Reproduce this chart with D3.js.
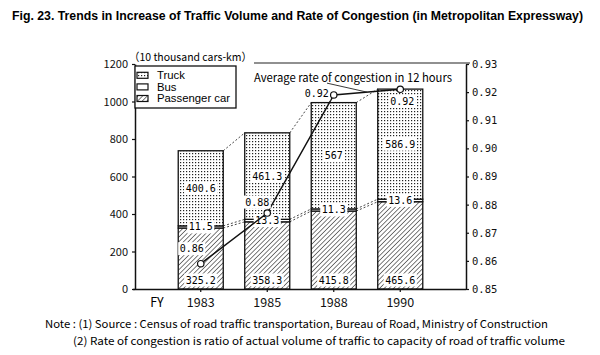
<!DOCTYPE html>
<html><head><meta charset="utf-8">
<script src="https://cdn.jsdelivr.net/npm/d3@7"></script>
<style>
body{margin:0;background:#fff;}
svg{display:block;font-family:"Noto Sans CJK JP","Noto Sans",sans-serif;}
</style></head>
<body><svg id="c" width="600" height="355"></svg>
<script>
const years = ["1983","1985","1988","1990"];
const passenger = [325.2, 358.3, 415.8, 465.6];
const bus = [11.5, 13.3, 11.3, 13.6];
const truck = [400.6, 461.3, 567, 586.9];
const congestion = [0.859, 0.877, 0.919, 0.921];
const leftTicks = [0,200,400,600,800,1000,1200];
const rightTicks = [0.85,0.86,0.87,0.88,0.89,0.90,0.91,0.92,0.93];
const seriesNames = ["Truck","Bus","Passenger car"];

// layout offsets for congestion labels (dx, dy from point)
const congLabelOffset = [[-9,-15],[-10,-11],[-17,-1],[2,12]];

(function(){
const svg = d3.select("#c");
const pL=135,pR=466,pT=64,pB=289;

const defs = svg.append("defs");
const pd = defs.append("pattern").attr("id","dots").attr("patternUnits","userSpaceOnUse").attr("width",3).attr("height",3);
pd.append("rect").attr("width",3).attr("height",3).attr("fill","#fff");
pd.append("rect").attr("x",0).attr("y",0).attr("width",1.2).attr("height",1.2).attr("fill","#222");
const ph = defs.append("pattern").attr("id","hatch").attr("patternUnits","userSpaceOnUse").attr("width",3.3).attr("height",3.3).attr("patternTransform","rotate(45)");
ph.append("rect").attr("width",3.3).attr("height",3.3).attr("fill","#fff");
ph.append("line").attr("x1",0).attr("y1",0).attr("x2",0).attr("y2",3.3).attr("stroke","#111").attr("stroke-width",1.1);

const x = d3.scaleBand().domain(years).range([pL,pR]).paddingInner(0.323).paddingOuter(0.65);
const y = d3.scaleLinear().domain([0,1200]).range([pB,pT]);
const y2 = d3.scaleLinear().domain([0.85,0.93]).range([pB,pT]);

const data = years.map((yr,i)=>({year:yr,passenger:passenger[i],bus:bus[i],truck:truck[i]}));
const stack = d3.stack().keys(["passenger","bus","truck"])(data);
const fills = {passenger:"url(#hatch)",bus:"#fff",truck:"url(#dots)"};

// title (fit to width)
const title = svg.append("text").attr("x",12).attr("y",20).attr("font-size",12.5).attr("font-weight","bold")
  .attr("font-family","'Liberation Sans Narrow','Liberation Sans',sans-serif")
  .text("Fig. 23. Trends in Increase of Traffic Volume and Rate of Congestion (in Metropolitan Expressway)");
{
  const w = title.node().getComputedTextLength();
  if (w > 571) title.attr("font-size", 12.5*571/w);
  title.attr("textLength",571).attr("lengthAdjust","spacingAndGlyphs");
}
svg.append("text").attr("x",129).attr("y",61).attr("font-size",11)
  .attr("textLength",123).attr("lengthAdjust","spacingAndGlyphs")
  .text("（10 thousand cars-km）");

// top frame line
svg.append("line").attr("x1",254).attr("x2",pR+4).attr("y1",63).attr("y2",63).attr("stroke","#222").attr("stroke-width",1.2);

// dashed connectors
const g = svg.append("g");
for(let i=0;i<years.length-1;i++){
  const x1 = x(years[i])+x.bandwidth(), x2 = x(years[i+1]);
  const tot1 = passenger[i]+bus[i]+truck[i], tot2 = passenger[i+1]+bus[i+1]+truck[i+1];
  g.append("line").attr("x1",x1).attr("x2",x2).attr("y1",y(tot1)).attr("y2",y(tot2))
    .attr("stroke","#333").attr("stroke-dasharray","2,2").attr("stroke-width",0.9);
  [[passenger[i],passenger[i+1]],[passenger[i]+bus[i],passenger[i+1]+bus[i+1]]].forEach(p=>{
    g.append("line").attr("x1",x1).attr("x2",x2).attr("y1",y(p[0])).attr("y2",y(p[1]))
      .attr("stroke","#333").attr("stroke-dasharray","2,2").attr("stroke-width",0.9);
  });
}

// bars
stack.forEach(s=>{
  svg.append("g").selectAll("rect").data(s).join("rect")
    .attr("x",d=>x(d.data.year)).attr("width",x.bandwidth())
    .attr("y",d=>y(d[1])).attr("height",d=>y(d[0])-y(d[1]))
    .attr("fill",fills[s.key]).attr("stroke","#111").attr("stroke-width",1.3);
});

// value labels
function boxLabel(cx,cy,txt,fs){
  const gg = svg.append("g");
  const t = gg.append("text").attr("x",cx).attr("y",cy).attr("dy","0.35em").attr("text-anchor","middle")
    .attr("font-family","'DejaVu Sans Mono',monospace").attr("font-size",fs||10).text(txt);
  const bb = t.node().getBBox();
  gg.insert("rect","text").attr("x",bb.x-1.5).attr("y",cy-6.5).attr("width",bb.width+3).attr("height",13).attr("fill","#fff");
}
data.forEach((d,i)=>{
  const cx = x(d.year)+x.bandwidth()/2;
  boxLabel(cx, y(0)-9, d3.format(".1f")(d.passenger));
  boxLabel(cx, y(d.passenger+d.bus/2), d3.format(".1f")(d.bus));
  const tlo = d.passenger+d.bus, thi = tlo+d.truck;
  boxLabel(cx, (y(tlo)+y(thi))/2, String(d.truck));
});

// congestion line
const pts = congestion.map((v,i)=>[x(years[i])+x.bandwidth()/2, y2(v)]);
svg.append("path").attr("d",d3.line()(pts)).attr("fill","none").attr("stroke","#111").attr("stroke-width",1.5);
pts.forEach((p,i)=>{
  boxLabel(p[0]+congLabelOffset[i][0], p[1]+congLabelOffset[i][1], d3.format(".2f")(congestion[i]));
});
svg.append("g").selectAll("circle").data(pts).join("circle")
  .attr("cx",d=>d[0]).attr("cy",d=>d[1]).attr("r",3.2).attr("fill","#fff").attr("stroke","#111").attr("stroke-width",1.2);

// annotation
svg.append("text").attr("x",254).attr("y",82).attr("font-size",11.5)
  .attr("textLength",198).attr("lengthAdjust","spacingAndGlyphs")
  .text("Average rate of congestion in 12 hours");
const mid = [(pts[2][0]+pts[3][0])/2,(pts[2][1]+pts[3][1])/2];
svg.append("line").attr("x1",mid[0]-40).attr("y1",mid[1]-9).attr("x2",mid[0]).attr("y2",mid[1]).attr("stroke","#222").attr("stroke-width",0.9);

// axes
const axL = svg.append("g").attr("transform",`translate(${pL},0)`)
  .call(d3.axisLeft(y).tickValues(leftTicks).tickSize(3).tickSizeOuter(0).tickPadding(4).tickFormat(d3.format("d")));
const axR = svg.append("g").attr("transform",`translate(${pR},0)`)
  .call(d3.axisRight(y2).tickValues(rightTicks).tickSize(3).tickSizeOuter(0).tickPadding(3).tickFormat(d3.format(".2f")));
const axB = svg.append("g").attr("transform",`translate(0,${pB})`)
  .call(d3.axisBottom(x).tickSize(3).tickSizeOuter(0).tickPadding(6));
[axL,axR,axB].forEach(a=>{
  a.selectAll(".domain").attr("stroke","#111").attr("stroke-width",1.5);
  a.selectAll(".tick line").attr("stroke","#111").attr("stroke-width",1.2);
  a.selectAll("text").attr("font-family","'Noto Sans CJK JP','Noto Sans',sans-serif").attr("fill","#111");
});
axL.selectAll("text").attr("font-size",11);
axR.selectAll("text").attr("font-size",10.5).attr("font-family","'DejaVu Sans Mono',monospace");
axB.selectAll("text").attr("font-size",12.5);
axB.select(".domain").attr("d",`M${pL-2},0.5H${pR}`);
svg.append("text").attr("x",157).attr("y",307).attr("text-anchor","middle").attr("font-size",12.5).text("FY");

// legend
const lg = svg.append("g");
lg.append("rect").attr("x",135).attr("y",66).attr("width",101).attr("height",42).attr("fill","#fff").attr("stroke","#111").attr("stroke-width",1.3);
const legFills = ["url(#dots)","#fff","url(#hatch)"];
seriesNames.forEach((n,i)=>{
  const cy = 75.3+i*11.6;
  lg.append("rect").attr("x",137).attr("y",cy-3).attr("width",11).attr("height",6).attr("fill",legFills[i]).attr("stroke","#111").attr("stroke-width",1.2);
  const t = lg.append("text").attr("x",157).attr("y",cy).attr("dy","0.35em").attr("font-size",10.3)
    .attr("font-family","'Liberation Sans',Arial,sans-serif").text(n);
  const w = t.node().getComputedTextLength();
  t.attr("textLength", w*1.1).attr("lengthAdjust","spacingAndGlyphs");
});

// notes
svg.append("text").attr("x",45).attr("y",328).attr("font-size",11)
  .attr("textLength",503).attr("lengthAdjust","spacingAndGlyphs")
  .text("Note : (1) Source : Census of road traffic transportation, Bureau of Road, Ministry of Construction");
svg.append("text").attr("x",73).attr("y",345).attr("font-size",11)
  .attr("textLength",492).attr("lengthAdjust","spacingAndGlyphs")
  .text("(2) Rate of congestion is ratio of actual volume of traffic to capacity of road of traffic volume");
})();
</script></body></html>
